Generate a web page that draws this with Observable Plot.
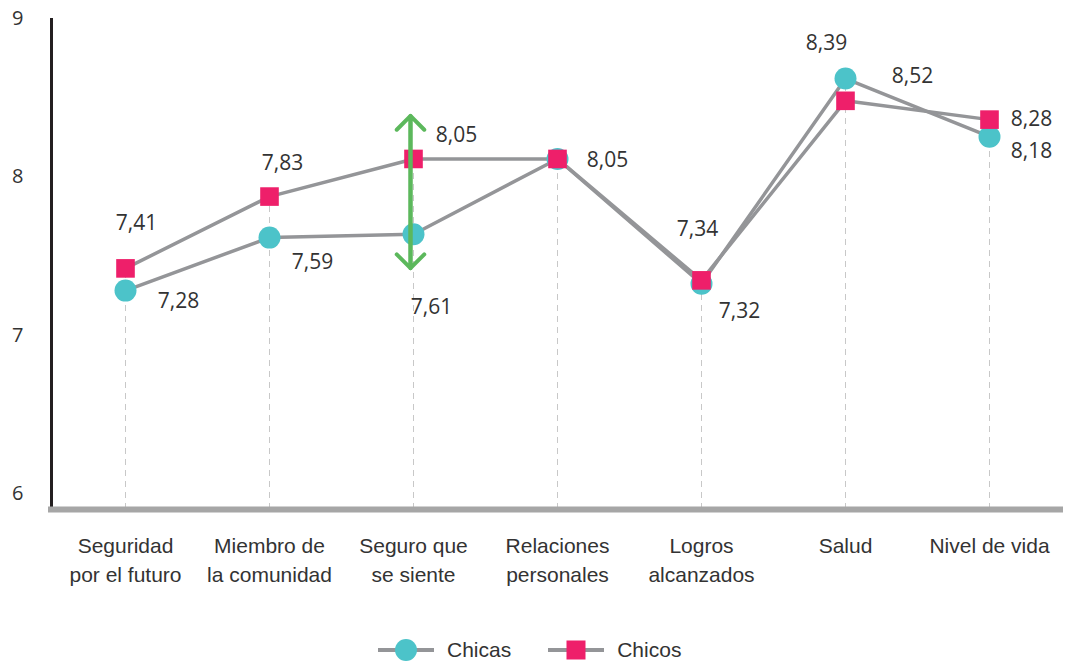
<!DOCTYPE html>
<html>
<head>
<meta charset="utf-8">
<script src="https://cdn.jsdelivr.net/npm/d3@7"></script>
<script src="https://cdn.jsdelivr.net/npm/@observablehq/plot@0.6"></script>
<style>
  body { margin: 0; background: #fff; font-family: "Liberation Sans", Arial, sans-serif; }
  #chart { position: relative; width: 1070px; height: 600px; }
  #chart svg { position: absolute; left: 0; top: 0; }
  #legend { position: absolute; left: 378px; top: 638px; display: flex; align-items: center;
            font-family: "Liberation Sans", Arial, sans-serif; font-size: 21px; color: #333; }
  #legend .item { display: flex; align-items: center; }
  #legend svg { display: block; }
</style>
</head>
<body>
<div id="chart"></div>
<div id="legend"></div>
<script>
// ---- data ----
const categories = [
  "Seguridad\npor el futuro",
  "Miembro de\nla comunidad",
  "Seguro que\nse siente",
  "Relaciones\npersonales",
  "Logros\nalcanzados",
  "Salud",
  "Nivel de vida"
];
const seriesNames = ["Chicas", "Chicos"];
const chicas = [7.28, 7.59, 7.61, 8.05, 7.32, 8.52, 8.18];
const chicos = [7.41, 7.83, 8.05, 8.05, 7.34, 8.39, 8.28];
const yTicks = [6, 7, 8, 9];
const arrowCategoryIndex = 2;

// ---- label placement (styling, px offsets from the point) ----
const chicasLabelOffset = [[53, 11], [43, 25], [18, 73], null, [38, 27], [67, -2], [42, 15]];
const chicosLabelOffset = [[11, -45], [13, -33], [43, -24], [50, 1], [-4, -51], [-19, -58], [42, 0]];

// ---- styles ----
const colChicas = "#4cc3c9";
const colChicos = "#ee1f6a";
const colLine = "#949598";
const colArrow = "#5cb85c";
const W = 1070, H = 600;

const rows = [];
categories.forEach((c, i) => {
  rows.push({cat: c, series: seriesNames[0], value: chicas[i], off: chicasLabelOffset[i]});
  rows.push({cat: c, series: seriesNames[1], value: chicos[i], off: chicosLabelOffset[i]});
});
const ranges = categories.map((c, i) => ({cat: c, lo: Math.min(chicas[i], chicos[i]), hi: Math.max(chicas[i], chicos[i])}));
const fmt = v => v.toFixed(2).replace(".", ",");

const labelMarks = rows.filter(r => r.off).map(r =>
  Plot.text([r], {
    x: "cat", y: "value", text: d => fmt(d.value),
    dx: r.off[0], dy: r.off[1],
    fontSize: 21, fill: "#333", fontFamily: "Open Sans, sans-serif"
  })
);

const ai = arrowCategoryIndex;
const ac = categories[ai];
const arrowOpts = {x1: "cat", x2: "cat", y1: "y1", y2: "y2", stroke: colArrow, strokeWidth: 4,
  headAngle: 90, headLength: 7.3, strokeLinecap: "round", strokeLinejoin: "round", dx: -3};

// axis layer (tick labels + vertical axis line)
const axisPlot = Plot.plot({
  width: W, height: H,
  marginTop: 18, marginBottom: 93, marginLeft: 51, marginRight: 7,
  style: {background: "transparent", color: "#333", fontFamily: "Open Sans, sans-serif"},
  x: {domain: [0, 1], axis: null},
  y: {domain: [6, 9], range: [493, 18], axis: null},
  marks: [
    Plot.axisY({ticks: yTicks, tickSize: 0, tickPadding: 28, fontSize: 20, label: null, tickFormat: d => String(d)}),
    Plot.ruleX([0], {stroke: "#231f20", strokeWidth: 3})
  ]
});

// data layer
const dataPlot = Plot.plot({
  width: W, height: H,
  marginTop: 0, marginBottom: H - 509, marginLeft: 51, marginRight: 7,
  style: {background: "transparent", color: "#333", fontFamily: "Liberation Sans, Arial, sans-serif"},
  x: {type: "point", domain: categories, padding: 0.5},
  y: {domain: [6, 9], range: [509, -4], axis: null},
  marks: [
    Plot.ruleX(ranges, {x: "cat", y1: 6, y2: "hi", stroke: "#c8c8c8", strokeWidth: 1, strokeDasharray: "6,5"}),
    Plot.ruleY([6], {stroke: "#a6a6a6", strokeWidth: 6, insetLeft: -3}),
    Plot.axisX({tickSize: 0, tickPadding: 23, fontSize: 21, lineHeight: 1.38, label: null, fill: "#333"}),
    Plot.line(rows, {x: "cat", y: "value", z: "series", stroke: colLine, strokeWidth: 3.5}),
    Plot.dot(rows.filter(r => r.series === seriesNames[0]), {x: "cat", y: "value", r: 11, fill: colChicas, symbol: "circle"}),
    Plot.dot(rows.filter(r => r.series === seriesNames[1]), {x: "cat", y: "value", r: 10.5, fill: colChicos, symbol: "square"}),
    Plot.arrow([{cat: ac, y1: chicas[ai], y2: chicos[ai]}], {...arrowOpts, insetStart: -34, insetEnd: -43}),
    Plot.arrow([{cat: ac, y1: chicos[ai], y2: chicas[ai]}], {...arrowOpts, insetStart: -43, insetEnd: -34}),
    ...labelMarks
  ]
});

const chart = document.getElementById("chart");
chart.append(axisPlot, dataPlot);

// legend
const legend = document.getElementById("legend");
const items = [
  {name: seriesNames[0], shape: `<circle cx="28" cy="12" r="11" fill="${colChicas}"/>`, gap: 37},
  {name: seriesNames[1], shape: `<rect x="18.5" y="2.5" width="19" height="19" fill="${colChicos}"/>`, gap: 0}
];
legend.innerHTML = items.map(it =>
  `<div class="item" style="margin-right:${it.gap}px">
     <svg width="56" height="24"><line x1="0" y1="12" x2="56" y2="12" stroke="${colLine}" stroke-width="4"/>${it.shape}</svg>
     <span style="margin-left:13px">${it.name}</span>
   </div>`).join("");
</script>
</body>
</html>
